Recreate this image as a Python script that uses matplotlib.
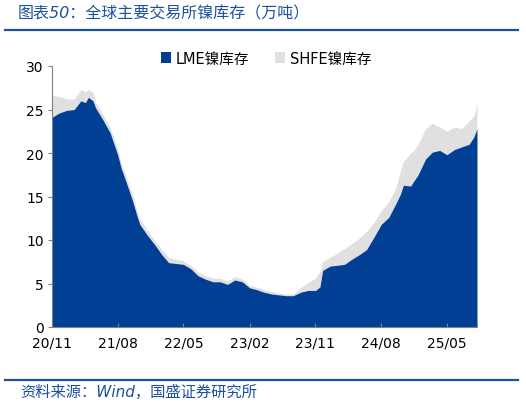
import matplotlib
matplotlib.use("Agg")
import matplotlib.pyplot as plt
from matplotlib.patches import Patch
import numpy as np
import pandas as pd

plt.rcParams['font.family'] = ['DejaVu Sans', 'Noto Sans CJK SC']

dates = ["2020-11-01", "2020-12-01", "2021-01-01", "2021-02-01", "2021-03-01", "2021-03-20",
         "2021-04-01", "2021-04-20", "2021-05-01", "2021-06-01", "2021-07-01", "2021-08-01",
         "2021-08-15", "2021-09-01", "2021-10-01", "2021-10-20", "2021-11-01", "2021-12-01",
         "2022-01-01", "2022-02-01", "2022-03-01", "2022-04-01", "2022-05-01", "2022-06-01",
         "2022-07-01", "2022-08-01", "2022-09-01", "2022-10-01", "2022-11-01", "2022-12-01",
         "2023-01-01", "2023-02-01", "2023-03-01", "2023-04-01", "2023-05-01", "2023-06-01",
         "2023-07-01", "2023-08-01", "2023-09-01", "2023-10-01", "2023-11-01", "2023-11-20",
         "2023-12-01", "2024-01-01", "2024-02-01", "2024-03-01", "2024-04-01", "2024-05-01",
         "2024-06-01", "2024-07-01", "2024-08-01", "2024-09-01", "2024-10-01", "2024-10-20",
         "2024-11-01", "2024-12-01", "2024-12-15", "2025-01-01", "2025-02-01", "2025-03-01",
         "2025-04-01", "2025-05-01", "2025-06-01", "2025-07-01", "2025-08-01", "2025-08-20",
         "2025-09-03"]
lme = [24.1, 24.6, 24.9, 25.0, 26.0, 25.8,
       26.4, 26.0, 25.2, 23.8, 22.3, 19.8,
       18.3, 17.0, 14.6, 12.8, 11.8, 10.6,
       9.5, 8.3, 7.4, 7.3, 7.2, 6.7,
       5.9, 5.5, 5.2, 5.2, 4.9, 5.4,
       5.2, 4.5, 4.3, 4.0, 3.8, 3.7,
       3.6, 3.6, 4.0, 4.2, 4.2, 4.6,
       6.5, 7.0, 7.1, 7.2, 7.8, 8.3,
       8.9, 10.3, 11.8, 12.6, 14.2, 15.3,
       16.3, 16.2, 16.8, 17.5, 19.3, 20.1,
       20.3, 19.8, 20.4, 20.7, 21.0, 21.8,
       22.8]
shfe = [2.5, 1.9, 1.3, 1.2, 1.3, 1.2,
        0.9, 1.0, 0.6, 0.6, 0.6, 0.6,
        0.6, 0.6, 0.7, 0.6, 0.6, 0.6,
        0.5, 0.6, 0.6, 0.5, 0.4, 0.4,
        0.4, 0.4, 0.4, 0.4, 0.4, 0.4,
        0.3, 0.3, 0.3, 0.3, 0.3, 0.2,
        0.2, 0.2, 0.5, 0.9, 1.4, 1.8,
        1.0, 1.0, 1.4, 1.8, 1.8, 1.9,
        2.1, 1.7, 1.6, 1.8, 1.8, 2.7,
        2.7, 3.8, 3.5, 3.5, 3.5, 3.3,
        2.7, 2.7, 2.6, 2.1, 2.7, 2.4,
        2.8]
tick_labels = ["20/11", "21/08", "22/05", "23/02", "23/11", "24/08", "25/05"]
tick_dates = ["2020-11-01", "2021-08-01", "2022-05-01", "2023-02-01", "2023-11-01", "2024-08-01", "2025-05-01"]

x = pd.to_datetime(dates)
lme_a = np.array(lme)
tot_a = lme_a + np.array(shfe)

blue = "#003f93"
grey = "#e0e0e0"
title_blue = "#1c4f9e"

fig = plt.figure(figsize=(5.26, 4.06), dpi=100)
ax = fig.add_axes([52/526, 1-328/406, (477-52)/526, (328-67)/406])

ax.fill_between(x, lme_a, tot_a, color=grey, lw=0)
ax.fill_between(x, 0, lme_a, color=blue, lw=0)

ax.set_ylim(0, 30)
ax.set_yticks([0, 5, 10, 15, 20, 25, 30])
ax.set_xlim(x[0], x[-1])
ax.set_xticks(pd.to_datetime(tick_dates))
ax.set_xticklabels(tick_labels)

for s in ["top", "right"]:
    ax.spines[s].set_visible(False)
for s in ["left", "bottom"]:
    ax.spines[s].set_color("#808080")
    ax.spines[s].set_linewidth(0.8)
ax.tick_params(axis='y', direction='out', length=3, color="#808080", labelsize=10, pad=3)
ax.tick_params(axis='x', direction='in', length=3, color="#808080", labelsize=10, pad=6)
ax.set_zorder(1)

handles = [Patch(facecolor=blue, edgecolor='none', label="LME镍库存"),
           Patch(facecolor=grey, edgecolor='none', label="SHFE镍库存")]
fig.legend(handles=handles, loc='center', bbox_to_anchor=(266/526, 1-59/406), ncol=2,
           frameon=False, fontsize=10.5, handlelength=0.7, handleheight=0.7,
           handletextpad=0.3, columnspacing=1.8)

fig.text(18/526, 1-14/406, "图表50：全球主要交易所镍库存（万吨）", color=title_blue,
         fontsize=11.5, style='italic', va='center', ha='left')
fig.add_artist(plt.Line2D([5/526, 518/526], [1-31/406, 1-31/406], color=title_blue, lw=1.6))
fig.add_artist(plt.Line2D([5/526, 518/526], [1-381/406, 1-381/406], color=title_blue, lw=1.6))
fig.text(20/526, 1-392/406, "资料来源：Wind，国盛证券研究所", color=title_blue,
         fontsize=11, style='italic', va='center', ha='left')

fig.savefig("out.png", dpi=100)
